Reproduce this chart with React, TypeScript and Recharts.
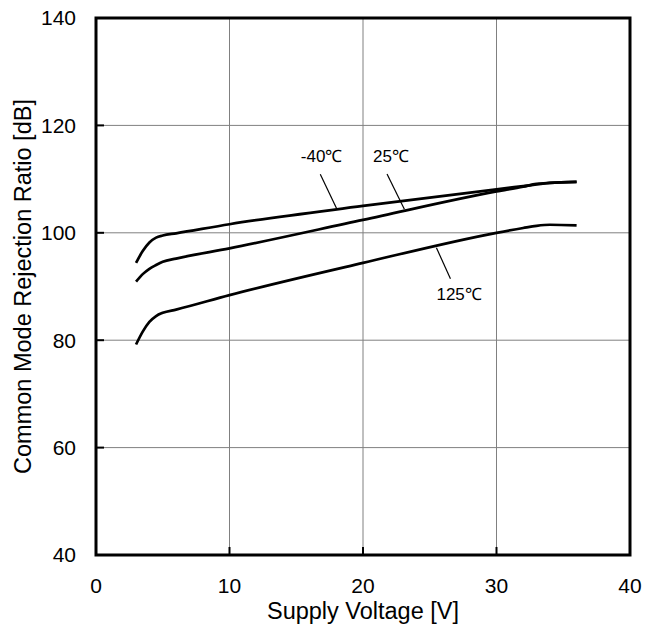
import React from "react";
import { ComposedChart, Line, XAxis, YAxis, CartesianGrid, ReferenceLine, ReferenceArea, ReferenceDot, Label } from "recharts";

const voltages = [3, 3.5, 4, 4.5, 5, 6, 10, 20, 30, 32, 33, 34, 36];
const cmrrM40 = [94.4, 96.6, 98.2, 99.1, 99.5, 99.9, 101.6, 105.0, 108.1, 108.7, 109.0, 109.3, 109.5];
const cmrr25 = [90.9, 92.3, 93.3, 94.0, 94.6, 95.2, 97.1, 102.4, 107.7, 108.6, 109.1, 109.3, 109.5];
const cmrr125 = [79.2, 81.6, 83.4, 84.5, 85.1, 85.7, 88.4, 94.4, 100.0, 100.9, 101.3, 101.5, 101.4];

const xTicks = [0, 10, 20, 30, 40];
const yTicks = [40, 60, 80, 100, 120, 140];

const seriesLabels = [
  { text: "-40℃", x: 16.9, y: 114.3, lx1: 16.8, ly1: 110.9, lx2: 18.05, ly2: 104.4 },
  { text: "25℃", x: 22.1, y: 114.3, lx1: 21.8, ly1: 110.95, lx2: 23.1, ly2: 104.4 },
  { text: "125℃", x: 27.2, y: 88.6, lx1: 25.5, ly1: 97.2, lx2: 26.55, ly2: 91.45 },
];

const data = voltages.map((v, i) => ({ v, a: cmrrM40[i], b: cmrr25[i], c: cmrr125[i] }));

const FONT = "'Liberation Sans', Arial, sans-serif";

export default function App() {
  return (
    <div style={{ position: "absolute", left: 0, top: 0 }}>
      <ComposedChart width={657} height={635} data={data} margin={{ top: 18, right: 27, bottom: 50, left: 36 }}>
        <CartesianGrid stroke="#808080" strokeWidth={1} horizontalValues={yTicks} verticalValues={xTicks} />
        <XAxis
          dataKey="v"
          type="number"
          domain={[0, 40]}
          ticks={xTicks}
          tickLine={false}
          axisLine={false}
          tickMargin={17}
          height={30}
          tick={{ fill: "#000", fontSize: 21, fontFamily: FONT }}
        >
          <Label value="Supply Voltage [V]" position="bottom" offset={17} style={{ fill: "#000", fontSize: 23.5, fontFamily: FONT }} />
        </XAxis>
        <YAxis
          type="number"
          domain={[40, 140]}
          ticks={yTicks}
          tickLine={false}
          axisLine={false}
          tickMargin={14}
          width={60}
          tick={{ fill: "#000", fontSize: 21, fontFamily: FONT }}
        >
          <Label value="Common Mode Rejection Ratio [dB]" angle={-90} position="insideLeft" offset={-13} style={{ fill: "#000", fontSize: 23.5, fontFamily: FONT, textAnchor: "middle" }} />
        </YAxis>
        {yTicks.map((t) => (
          <ReferenceLine key={"yt" + t} segment={[{ x: 0, y: t }, { x: 0.6, y: t }]} stroke="#000" strokeWidth={2} />
        ))}
        {xTicks.map((t) => (
          <ReferenceLine key={"xt" + t} segment={[{ x: t, y: 40 }, { x: t, y: 41.5 }]} stroke="#000" strokeWidth={2} />
        ))}
        <ReferenceArea x1={0} x2={40} y1={40} y2={140} fill="none" stroke="#000" strokeWidth={3} ifOverflow="visible" />
        <Line dataKey="a" type="monotone" stroke="#000" strokeWidth={2.7} dot={false} isAnimationActive={false} />
        <Line dataKey="b" type="monotone" stroke="#000" strokeWidth={2.7} dot={false} isAnimationActive={false} />
        <Line dataKey="c" type="monotone" stroke="#000" strokeWidth={2.7} dot={false} isAnimationActive={false} />
        {seriesLabels.map((s) => (
          <ReferenceLine key={"ll" + s.text} segment={[{ x: s.lx1, y: s.ly1 }, { x: s.lx2, y: s.ly2 }]} stroke="#000" strokeWidth={1.2} />
        ))}
        {seriesLabels.map((s) => (
          <ReferenceDot key={"lb" + s.text} x={s.x} y={s.y} r={0} fill="none" stroke="none">
            <Label value={s.text} position="center" style={{ fill: "#000", fontSize: 17, fontFamily: FONT }} />
          </ReferenceDot>
        ))}
      </ComposedChart>
    </div>
  );
}
